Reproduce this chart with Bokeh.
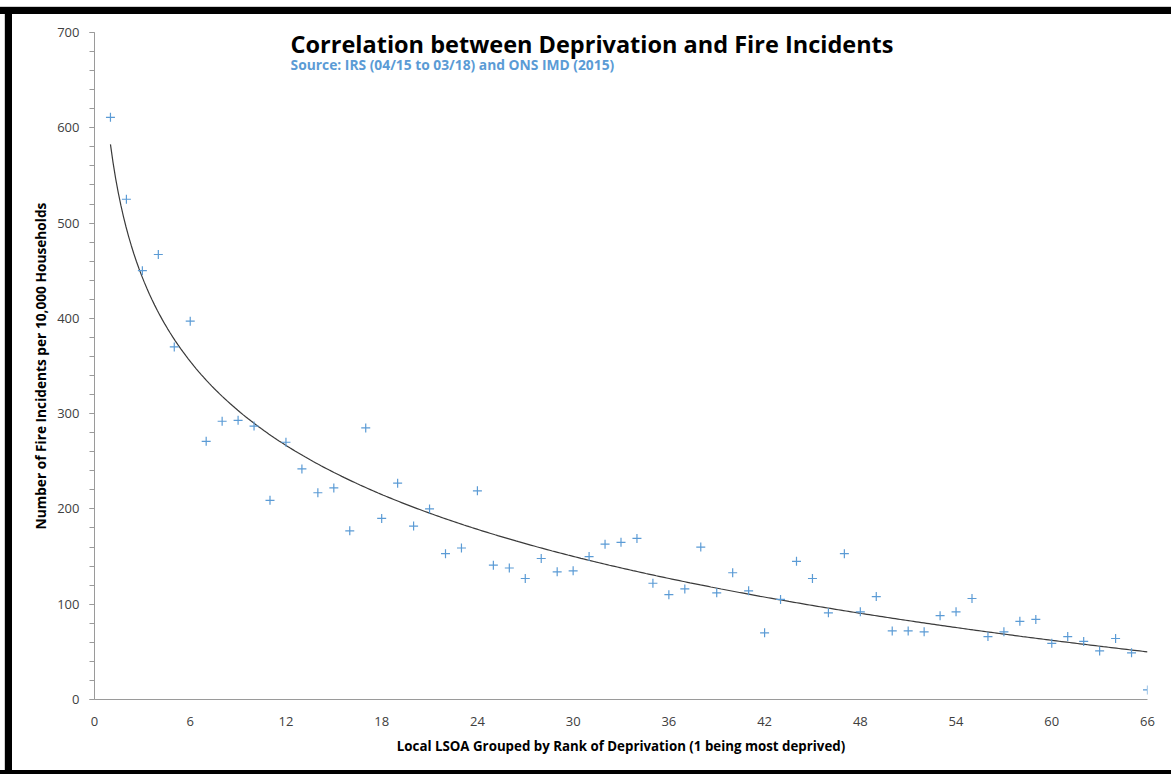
import numpy as np
from bokeh.plotting import figure
from bokeh.models import Range1d, FixedTicker, SingleIntervalTicker, Label, ColumnDataSource, Div
from bokeh.layouts import column, row
from bokeh.embed import file_html
from bokeh.resources import INLINE

# ---- data ----
rank = list(range(1, 67))
incidents = [611, 525, 450, 467, 370, 397, 271, 292, 293, 287,
             209, 270, 242, 217, 222, 177, 285, 190, 227, 182,
             200, 153, 159, 219, 141, 138, 127, 148, 134, 135,
             150, 163, 165, 169, 122, 110, 116, 160, 112, 133,
             114, 70, 105, 145, 127, 91, 153, 92, 108, 72,
             72, 71, 88, 92, 106, 66, 71, 82, 84, 59,
             66, 61, 51, 64, 49, 10]
x_ticks = [0, 6, 12, 18, 24, 30, 36, 42, 48, 54, 60, 66]
title_text = "Correlation between Deprivation and Fire Incidents"
subtitle_text = "Source: IRS (04/15 to 03/18) and ONS IMD (2015)"
x_label = "Local LSOA Grouped by Rank of Deprivation (1 being most deprived)"
y_label = "Number of Fire Incidents per 10,000 Households"

# logarithmic trendline fitted to the data (as Excel does)
a, b = np.polyfit(np.log(rank), incidents, 1)
fit_x = np.linspace(min(rank), max(rank), 400)
fit_y = a * np.log(fit_x) + b

W, H = 1159, 756
p = figure(width=W, height=H, x_range=Range1d(0, 66), y_range=Range1d(0, 700),
           output_backend="svg", toolbar_location=None,
           min_border_left=82, min_border_right=24, min_border_top=18, min_border_bottom=71)
p.outline_line_color = None
p.xgrid.visible = False
p.ygrid.visible = False
p.background_fill_color = "white"
p.border_fill_color = "white"

font = "Open Sans"
axis_col = "#9a9a9a"
lab_col = "#404040"

p.xaxis.ticker = FixedTicker(ticks=x_ticks)
p.xaxis.major_tick_out = 0
p.xaxis.major_tick_in = 0
p.xaxis.minor_tick_out = 0
p.xaxis.major_label_standoff = 17
p.xaxis.axis_label = x_label
p.xaxis.axis_label_standoff = 8
p.xaxis.axis_label_text_font_size = "13.3px"

p.yaxis.ticker = SingleIntervalTicker(interval=100, num_minor_ticks=5)
p.yaxis.major_tick_out = 5
p.yaxis.major_tick_in = 0
p.yaxis.minor_tick_out = 5
p.yaxis.minor_tick_in = 0
p.yaxis.major_label_standoff = 10
p.yaxis.axis_label = y_label
p.yaxis.axis_label_standoff = 4
p.yaxis.axis_label_text_font_size = "13.7px"

for ax in (p.xaxis, p.yaxis):
    ax.axis_line_color = axis_col
    ax.major_tick_line_color = axis_col
    ax.minor_tick_line_color = axis_col
    ax.major_label_text_font = font
    ax.major_label_text_font_size = "13px"
    ax.major_label_text_color = lab_col
    ax.axis_label_text_font = font
    ax.axis_label_text_font_style = "bold"
    ax.axis_label_text_color = "black"

src = ColumnDataSource(dict(x=rank, y=incidents))
p.line(fit_x, fit_y, line_color="#3a3a3a", line_width=1.2)
p.scatter("x", "y", source=src, marker="cross", size=9, line_color="#5B9BD5", line_width=1.2)

p.add_layout(Label(x=12.29, y=688, text=title_text, text_font=font, text_font_size="23.5px",
                   text_font_style="bold", text_color="black", text_baseline="alphabetic"))
p.add_layout(Label(x=12.29, y=666, text=subtitle_text, text_font=font, text_font_size="13.8px",
                   text_font_style="bold", text_color="#5B9BD5", text_baseline="alphabetic"))

# black frame of the picture
top_bar = Div(width=1171, height=14, margin=0,
              styles={"background": "linear-gradient(to bottom, #ffffff 0px, #ffffff 6px, #d0d0d0 6px, "
                                    "#d0d0d0 7px, #000000 7px, #000000 14px)"})
left_bar = Div(width=12, height=H, margin=0,
               styles={"background": "linear-gradient(to right, #ffffff 0px, #ffffff 4px, #d0d0d0 4px, "
                                     "#d0d0d0 5px, #000000 5px, #000000 12px)"})
bottom_bar = Div(width=1171, height=4, margin=0, styles={"background": "#000000"})

layout = column(top_bar, row(left_bar, p, spacing=0), bottom_bar, spacing=0)

open("out.html", "w").write(file_html(layout, INLINE))
